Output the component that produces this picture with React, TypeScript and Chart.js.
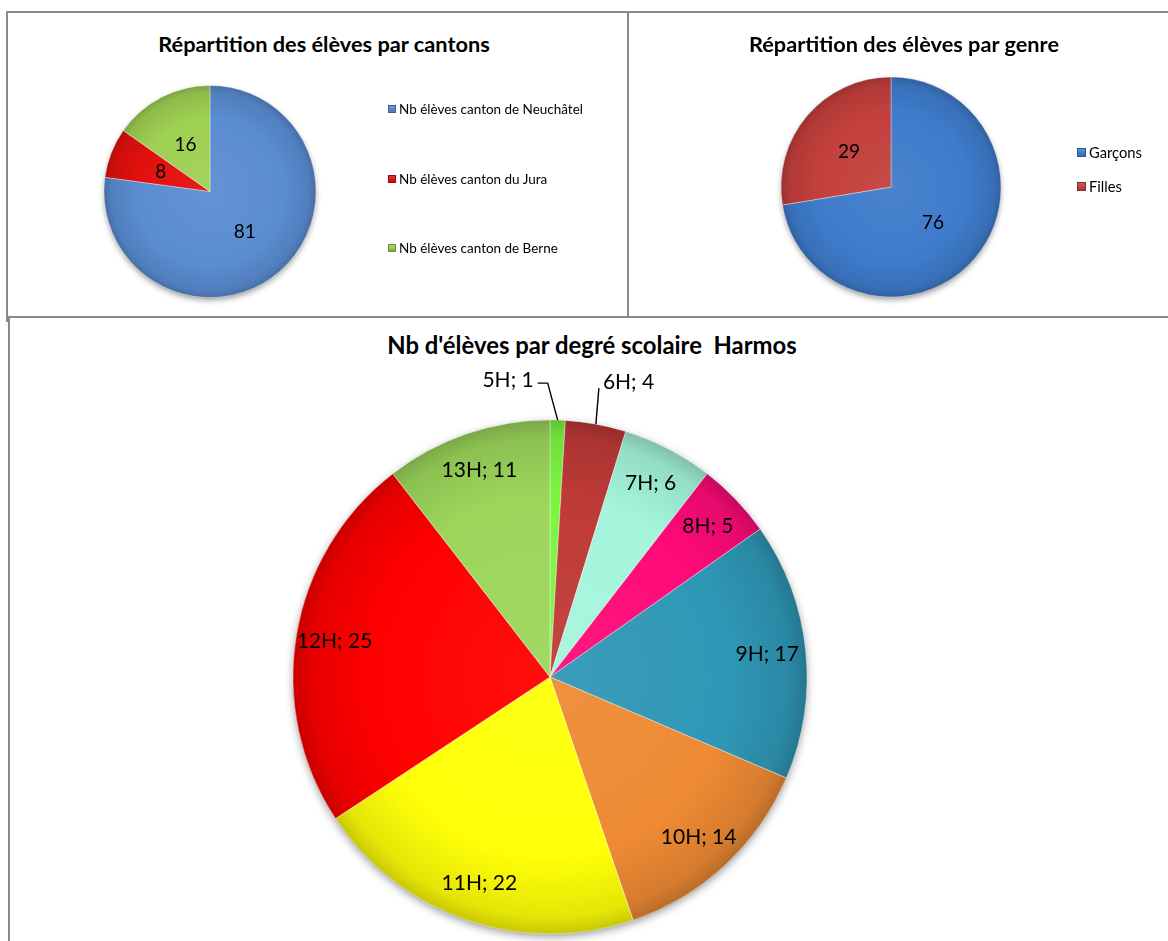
import React, { useEffect, useRef } from 'react';
import { Chart, registerables } from 'chart.js';

Chart.register(...registerables);

// ---------- data ----------
const CANTON_TITLE = 'Répartition des élèves par cantons';
const CANTON_LABELS = ['Nb élèves canton de Neuchâtel', 'Nb élèves canton du Jura', 'Nb élèves canton de Berne'];
const CANTON_VALUES = [81, 8, 16];
const CANTON_COLORS = ['#5A8CD2', '#E2100E', '#9ED052'];

const GENRE_TITLE = 'Répartition des élèves par genre';
const GENRE_LABELS = ['Garçons', 'Filles'];
const GENRE_VALUES = [76, 29];
const GENRE_COLORS = ['#3E7BCB', '#C23F3C'];

const DEGRE_TITLE = "Nb d'élèves par degré scolaire  Harmos";
const DEGRE_LABELS = ['5H', '6H', '7H', '8H', '9H', '10H', '11H', '12H', '13H'];
const DEGRE_VALUES = [1, 4, 6, 5, 17, 14, 22, 25, 11];
const DEGRE_COLORS = ['#7CF542', '#BE3A37', '#A4F5DC', '#FF0A78', '#2F97B6', '#EE8A34', '#FFFF08', '#FF0000', '#9CD65B'];

const FONT = 'Lato, "Open Sans", "Noto Sans", sans-serif';

// ---------- helpers ----------
function shade(hex: string, amt: number): string {
  const n = parseInt(hex.slice(1), 16);
  let r = (n >> 16) & 255, g = (n >> 8) & 255, b = n & 255;
  if (amt >= 0) {
    r = r + (255 - r) * amt; g = g + (255 - g) * amt; b = b + (255 - b) * amt;
  } else {
    r = r * (1 + amt); g = g * (1 + amt); b = b * (1 + amt);
  }
  return `rgb(${Math.round(r)},${Math.round(g)},${Math.round(b)})`;
}

let measureCtx: CanvasRenderingContext2D | null = null;
function fitSize(text: string, weight: number, target: number): number {
  if (!measureCtx) measureCtx = document.createElement('canvas').getContext('2d');
  if (!measureCtx) return 16;
  measureCtx.font = `${weight} 100px ${FONT}`;
  const w = measureCtx.measureText(text).width;
  return w > 0 ? (100 * target) / w : 16;
}

function radialFill(colors: string[]) {
  return (c: any) => {
    const base = colors[c.dataIndex % colors.length];
    const chart = c.chart;
    const area = chart.chartArea;
    if (!area) return base;
    const cx = (area.left + area.right) / 2;
    const cy = (area.top + area.bottom) / 2;
    const r = Math.min(area.right - area.left, area.bottom - area.top) / 2;
    const g = chart.ctx.createRadialGradient(cx, cy, 0, cx, cy, r);
    g.addColorStop(0, shade(base, 0.06));
    g.addColorStop(0.7, base);
    g.addColorStop(0.93, shade(base, -0.1));
    g.addColorStop(1, shade(base, -0.22));
    return g;
  };
}

const shadowPlugin = {
  id: 'pieShadow',
  beforeDatasetsDraw(chart: any, _args: any, opts: any) {
    const arc = chart.getDatasetMeta(0).data[0];
    if (!arc) return;
    const { x, y, outerRadius } = arc.getProps(['x', 'y', 'outerRadius'], true);
    const ctx = chart.ctx;
    ctx.save();
    ctx.shadowColor = 'rgba(0,0,0,0.45)';
    ctx.shadowBlur = opts.blur ?? 8;
    ctx.shadowOffsetY = opts.offY ?? 3;
    ctx.beginPath();
    ctx.arc(x, y, outerRadius - 1, 0, Math.PI * 2);
    ctx.fillStyle = '#ffffff';
    ctx.fill();
    ctx.restore();
  },
};

const labelPlugin = {
  id: 'pieLabels',
  afterDatasetsDraw(chart: any, _args: any, opts: any) {
    const meta = chart.getDatasetMeta(0);
    const ds = chart.data.datasets[0];
    const ctx = chart.ctx;
    ctx.save();
    ctx.font = opts.font;
    ctx.fillStyle = '#000';
    ctx.strokeStyle = '#000';
    meta.data.forEach((arc: any, i: number) => {
      const { x, y, startAngle, endAngle, outerRadius } = arc.getProps(
        ['x', 'y', 'startAngle', 'endAngle', 'outerRadius'], true);
      const mid = (startAngle + endAngle) / 2;
      const lab = chart.data.labels[i];
      const text = opts.combine ? `${lab}; ${ds.data[i]}` : `${ds.data[i]}`;
      const out = opts.outside ? opts.outside[lab] : null;
      ctx.textBaseline = 'middle';
      if (out) {
        const ex = x + Math.cos(mid) * outerRadius;
        const ey = y + Math.sin(mid) * outerRadius;
        ctx.lineWidth = 1.4;
        ctx.beginPath();
        ctx.moveTo(ex, ey);
        out.leader.forEach((p: number[]) => ctx.lineTo(ex + p[0], ey + p[1]));
        ctx.stroke();
        ctx.textAlign = out.align;
        ctx.fillText(text, ex + out.dx, ey + out.dy);
      } else {
        const r = outerRadius * opts.frac;
        ctx.textAlign = 'center';
        ctx.fillText(text, x + Math.cos(mid) * r, y + Math.sin(mid) * r);
      }
    });
    ctx.restore();
  },
};

// ---------- components ----------
type PieProps = {
  left: number; top: number; width: number; height: number;
  cx: number; cy: number; r: number;
  labels: string[]; values: number[]; colors: string[];
  labelFont: string; frac: number; combine?: boolean; outside?: any;
  shadowBlur?: number;
};

function PieCanvas(p: PieProps) {
  const ref = useRef<HTMLCanvasElement | null>(null);
  useEffect(() => {
    if (!ref.current) return;
    const rr = p.r + 0.5;
    const lx = p.cx - p.left, ly = p.cy - p.top;
    const chart = new Chart(ref.current, {
      type: 'pie',
      data: {
        labels: p.labels,
        datasets: [{
          data: p.values,
          backgroundColor: radialFill(p.colors) as any,
          borderColor: 'rgba(255,255,255,0.35)',
          borderWidth: 1,
        }],
      },
      options: {
        responsive: false,
        animation: false,
        layout: {
          padding: {
            left: lx - rr,
            top: ly - rr,
            right: p.width - (lx + rr),
            bottom: p.height - (ly + rr),
          },
        },
        plugins: {
          legend: { display: false },
          title: { display: false },
          tooltip: { enabled: false },
          pieShadow: { blur: p.shadowBlur ?? 8, offY: 3 },
          pieLabels: { font: p.labelFont, frac: p.frac, combine: p.combine, outside: p.outside },
        } as any,
      },
      plugins: [shadowPlugin, labelPlugin],
    });
    return () => chart.destroy();
  }, []);
  return (
    <canvas
      ref={ref}
      width={p.width}
      height={p.height}
      style={{ position: 'absolute', left: p.left, top: p.top, width: p.width, height: p.height }}
    />
  );
}

// baseline: y of the text baseline; size in px
function Title({ text, cx, baseline, size }: { text: string; cx: number; baseline: number; size: number }) {
  const boxH = 40;
  const baseInBox = boxH / 2 + 0.387 * size;
  return (
    <div style={{
      position: 'absolute', left: cx - 350, width: 700, top: baseline - baseInBox, height: boxH,
      lineHeight: `${boxH}px`, textAlign: 'center', fontFamily: FONT, fontWeight: 700,
      fontSize: size, color: '#000', whiteSpace: 'pre',
    }}>{text}</div>
  );
}

function Legend({ labels, colors, left, y0, step, size, box }:
  { labels: string[]; colors: string[]; left: number; y0: number; step: number; size: number; box: number }) {
  return (
    <>
      {labels.map((l, i) => (
        <div key={l} style={{
          position: 'absolute', left, top: y0 + i * step - 10, height: 20,
          display: 'flex', alignItems: 'center', fontFamily: FONT, fontSize: size, color: '#000',
          whiteSpace: 'nowrap',
        }}>
          <span style={{
            display: 'inline-block', width: box, height: box, marginRight: 3, flex: 'none',
            background: `linear-gradient(180deg, ${shade(colors[i], 0.15)}, ${shade(colors[i], -0.15)})`,
            boxSizing: 'border-box', border: `1px solid ${shade(colors[i], -0.3)}`,
          }} />
          <span>{l}</span>
        </div>
      ))}
    </>
  );
}

const LINE = '#8a8a8a';

export default function App() {
  const line = (l: number, t: number, w: number, h: number) => (
    <div style={{ position: 'absolute', left: l, top: t, width: w, height: h, background: LINE }} />
  );
  const titleTop = fitSize(CANTON_TITLE, 700, 332);
  const titleBottom = fitSize(DEGRE_TITLE, 700, 410);
  const legend1 = fitSize(CANTON_LABELS[0], 400, 184);
  const legend2 = fitSize(GENRE_LABELS[0], 400, 53);
  return (
    <div style={{ position: 'fixed', left: 0, top: 0, width: 1168, height: 941, overflow: 'hidden', background: '#fff' }}>
      {line(6, 11, 1162, 2)}
      {line(6, 11, 2, 311)}
      {line(627, 11, 2, 306)}
      {line(6, 316, 1162, 2)}
      {line(8, 316, 2, 625)}

      <Title text={CANTON_TITLE} cx={324} baseline={52} size={titleTop} />
      <PieCanvas left={8} top={13} width={619} height={303} cx={210} cy={191.5} r={106}
        labels={CANTON_LABELS} values={CANTON_VALUES} colors={CANTON_COLORS}
        labelFont={`19px ${FONT}`} frac={0.5} shadowBlur={6} />
      <Legend labels={CANTON_LABELS} colors={CANTON_COLORS} left={388} y0={109} step={69.5} size={legend1} box={8} />

      <Title text={GENRE_TITLE} cx={904} baseline={52} size={titleTop} />
      <PieCanvas left={629} top={13} width={539} height={303} cx={891} cy={187} r={110}
        labels={GENRE_LABELS} values={GENRE_VALUES} colors={GENRE_COLORS}
        labelFont={`19px ${FONT}`} frac={0.5} shadowBlur={6} />
      <Legend labels={GENRE_LABELS} colors={GENRE_COLORS} left={1077} y0={152} step={34} size={legend2} box={9} />

      <Title text={DEGRE_TITLE} cx={592} baseline={354} size={titleBottom} />
      <PieCanvas left={10} top={318} width={1158} height={623} cx={550} cy={677} r={257}
        labels={DEGRE_LABELS} values={DEGRE_VALUES} colors={DEGRE_COLORS}
        labelFont={`21px ${FONT}`} frac={0.85} combine shadowBlur={10}
        outside={{
          '5H': { dx: -24, dy: -40, align: 'right', leader: [[-10, -37], [-20, -37]] },
          '6H': { dx: 7, dy: -42, align: 'left', leader: [[3, -36]] },
        }} />
    </div>
  );
}
